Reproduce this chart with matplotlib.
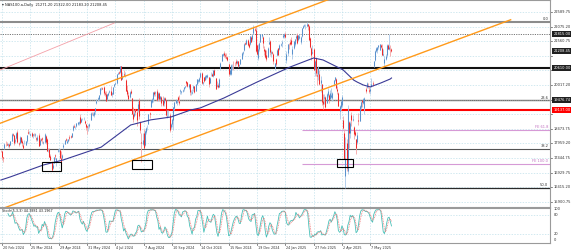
import numpy as np
import pandas as pd
import matplotlib
matplotlib.use("Agg")
import matplotlib.pyplot as plt
from matplotlib.patches import Rectangle
from matplotlib.transforms import blended_transform_factory as btf

plt.rcParams['font.family'] = ['DejaVu Sans']

# ---------------- data ----------------
symbol_title = "NAS100.a,Daily  21271.20 21322.00 21183.20 21208.45"
stoch_title = "Stoch(5,3,3) 44.3881 43.1967"
start_date, end_date = "2024-02-19", "2025-06-02"
closed_days = ["2024-03-29", "2024-12-25", "2025-01-01", "2025-04-18"]

opens = [17700,17690,17480,17800,17950,17940,17920,17930,17920,18050,
18300,18240,18060,18140,18350,17970,17960,18180,18060,17900,
17960,17920,18030,18370,18340,18280,18320,18270,18260,18260,
18150,18080,18250,17920,18120,18140,17990,18010,18220,18130,
17680,17770,17520,17300,17100,17270,17540,17300,17700,17760,
17740,17450,17460,17830,17940,18120,17990,18060,18190,18230,
18200,18420,18590,18550,18560,18640,18700,18900,18720,18810,
18840,18750,18640,18560,18600,18590,18790,19040,18970,18960,
19100,19400,19520,19520,19690,19900,19910,19960,19750,19690,
19520,19650,19770,19820,19700,19710,19970,20050,20100,20420,
20480,20470,20680,20240,20400,20400,20180,19850,19680,19600,
19790,19550,18990,18930,19130,19060,19130,19500,18730,18000,
17950,18330,17890,18370,18540,18660,19030,19250,19430,19540,
19760,19740,19810,19550,19730,19510,19600,19480,19400,19570,
19480,18880,18960,18950,18530,18660,18770,19220,19400,19420,
19580,19470,19800,19780,19800,19890,19960,20150,20110,19960,
20040,19760,19740,19910,19970,19800,20050,20170,20150,20290,
20450,20110,20290,20200,20300,20300,20290,20100,20330,20400,
20330,20530,20250,19990,20020,19960,20620,20860,21080,21150,
21070,21020,21010,20760,20400,20400,20740,20770,20760,20860,
20780,20860,20700,20760,20950,21130,21240,21500,21480,21620,
21480,21450,21720,21640,21840,21980,21970,21410,20980,21290,
21550,21760,21720,21300,21250,21080,21010,21460,21580,21150,
21180,21110,20650,20930,21070,21320,21290,21420,21520,21700,
21730,21830,20900,21150,21440,21520,21620,21100,21310,21450,
21680,21780,21610,21670,21520,21760,22030,22110,22150,22110,
22170,22090,21680,21320,21150,21270,20570,20980,20370,20390,
20420,20100,20040,19440,19550,19590,19380,19660,19680,19530,
19580,19550,20050,20210,20230,19880,19750,19100,19260,19310,
18800,18330,16800,17980,17000,18700,18340,18960,18800,18530,
18350,18100,18010,18800,18760,19240,19480,19370,19200,19880,
19930,20000,19830,19800,19990,20100,20700,20900,21220,21250,
21340,21260,21430,21310,21090,20780,20950,21060,21410,21290,
21370,21271.20]
highs = [17740,17700,17490,17960,18040,18000,17970,17950,18060,18310,
18340,18250,18160,18360,18420,18010,18210,18190,18110,17960,
18080,18060,18250,18460,18380,18330,18360,18290,18310,18310,
18180,18240,18330,18140,18150,18190,18060,18310,18260,18150,
17790,17800,17580,17340,17290,17480,17570,17460,17780,17790,
17760,17690,17600,17960,18090,18160,18100,18120,18240,18260,
18330,18600,18640,18570,18690,18720,18760,19000,18840,18850,
18890,18790,18660,18590,18650,18680,19060,19080,19080,19090,
19220,19510,19590,19680,19920,19940,19950,20000,19790,19800,
19710,19780,19830,19980,19770,19960,20070,20120,20400,20490,
20520,20690,20700,20480,20560,20460,20230,20020,19780,19800,
19870,19560,19240,19120,19180,19120,19440,19560,18760,18310,
18340,18470,18430,18550,18620,19000,19060,19490,19560,19770,
19800,19820,19860,19780,19770,19640,19630,19630,19580,19600,
19500,19130,19140,19040,18670,18830,19250,19430,19510,19460,
19630,19680,19880,19820,19860,19960,20000,20160,20130,20070,
20060,19830,19870,20010,19990,20070,20240,20230,20290,20460,
20470,20140,20290,20360,20380,20400,20300,20290,20490,20440,
20560,20580,20270,20170,20090,20260,20820,21110,21150,21200,
21140,21140,21040,20790,20580,20760,20760,20880,20820,20930,
20890,20870,20760,20940,21170,21200,21490,21540,21650,21640,
21520,21760,21730,21800,22130,22050,22100,21480,21450,21520,
21800,21830,21740,21380,21280,21260,21350,21700,21600,21260,
21220,21130,20800,20960,21300,21320,21470,21510,21620,21810,
21840,21900,21200,21470,21500,21640,21720,21400,21580,21650,
21780,21850,21780,21800,21750,22040,22130,22150,22180,22220,
22180,22120,21720,21360,21440,21310,20890,21020,20630,20690,
20550,20330,20040,19690,19690,19630,19720,19910,19700,19840,
19900,19770,20200,20300,20260,19970,19770,19320,19460,19650,
18940,18460,18200,18100,19300,18750,18760,19050,18960,18560,
18450,18120,18360,19040,19310,19450,19500,19570,19610,19950,
20130,20080,19930,19960,20250,20160,20880,21250,21360,21360,
21440,21470,21460,21480,21270,21030,21120,21450,21480,21830,
21420,21322.00]
lows = [17640,17370,17320,17780,17880,17900,17850,17810,17890,18030,
18220,17900,17980,18110,17990,17870,17940,17960,17880,17780,
17950,17890,17980,18300,18290,18230,18200,18160,18230,18170,
18050,18060,17860,17890,18060,17960,17930,17980,17940,17700,
17640,17480,17360,16980,17070,17260,17420,17160,17660,17660,
17440,17300,17420,17770,17930,18040,17980,18000,18090,18150,
18180,18410,18540,18470,18550,18620,18610,18660,18700,18790,
18770,18640,18430,18290,18400,18520,18780,18950,18940,18900,
19000,19360,19460,19490,19660,19840,19860,19660,19620,19440,
19480,19640,19730,19660,19610,19700,19960,20040,20070,20400,
20400,20430,20180,20220,20330,20300,19800,19620,19510,19570,
19700,18980,18720,18900,18950,18570,19080,18810,18310,17300,
17920,17790,17870,18300,18420,18650,18860,19230,19400,19430,
19620,19640,19460,19470,19470,19460,19280,19270,19280,19480,
18940,18860,18880,18370,18480,18550,18430,19130,19390,19310,
19420,19330,19710,19690,19760,19800,19900,19980,19940,19860,
19680,19680,19700,19820,19730,19790,20010,20090,20140,20270,
20050,20010,20140,20200,20230,20270,19950,20080,20320,20340,
20300,20380,19880,19960,19910,19960,20570,20850,21040,21010,
20980,20950,20870,20340,20380,20370,20540,20560,20680,20740,
20760,20660,20680,20750,20940,21080,21220,21440,21470,21400,
21320,21440,21540,21570,21820,21910,21170,21090,20910,21210,
21530,21680,21330,21080,20980,20880,21000,21450,21080,20990,
21100,20760,20540,20690,21040,21060,21240,21400,21370,21680,
21660,21690,20800,21040,21280,21410,21420,20950,21290,21400,
21620,21480,21590,21630,21480,21720,22020,22080,22000,22080,
21950,21600,21320,20900,21100,20540,20340,20340,20030,20210,
20030,19760,19310,19180,19360,19200,19370,19610,19400,19510,
19550,19450,20000,20170,19880,19700,19270,18810,19150,19240,
18480,17400,16400,17000,16900,17800,18140,18580,18760,18100,
18220,17600,17950,18620,18740,19170,19230,19360,18990,19720,
19900,19900,19740,19710,19960,19980,20640,20880,21170,21150,
21280,21240,21310,21060,21030,20680,20900,21020,21270,21250,
21050,21183.20]
closes = [17690,17480,17440,17940,17940,17920,17940,17870,18040,18300,
18250,17990,18080,18340,18020,17930,18200,18000,17970,17810,
17990,18050,18240,18340,18340,18280,18210,18280,18250,18290,
18130,18170,17880,18080,18080,18130,18000,18290,18000,17710,
17710,17490,17390,17040,17210,17470,17530,17430,17720,17780,
17440,17320,17540,17890,18080,18070,18060,18110,18160,18200,
18320,18590,18550,18550,18670,18710,18710,18690,18810,18830,
18870,18670,18540,18540,18610,18640,19040,19020,18990,19080,
19210,19470,19570,19660,19900,19910,19880,19750,19700,19470,
19700,19750,19790,19680,19750,19950,20050,20100,20390,20450,
20440,20680,20210,20330,20370,20410,19800,19700,19520,19770,
19740,18990,18830,19020,19060,18800,19360,18910,18440,17990,
18080,17810,18410,18510,18540,18990,19010,19480,19510,19760,
19710,19780,19480,19720,19530,19620,19390,19320,19570,19500,
18960,18920,18960,18420,18640,18830,19240,19420,19480,19460,
19480,19380,19840,19790,19850,19940,19970,20090,19980,20060,
19760,19780,19760,20000,19760,20060,20230,20190,20270,20440,
20100,20110,20160,20320,20360,20360,20050,20270,20350,20350,
20550,20380,19890,20030,19960,20230,20800,21100,21120,21070,
21040,20980,20900,20390,20560,20730,20740,20760,20750,20780,
20870,20700,20740,20930,21160,21180,21480,21460,21620,21430,
21350,21740,21550,21780,22050,21950,21200,21110,21290,21490,
21800,21800,21510,21210,21010,20950,21320,21530,21180,21180,
21150,20850,20780,20760,21240,21070,21420,21480,21520,21790,
21830,21720,21120,21460,21410,21480,21480,21300,21560,21640,
21760,21490,21770,21740,21720,22030,22110,22140,22170,22180,
22080,21610,21350,21090,21180,20550,20880,20440,20350,20630,
20050,20200,19430,19360,19590,19230,19700,19800,19480,19740,
19680,19750,20180,20290,19920,19800,19280,19280,19440,19580,
18520,17400,17430,17090,19150,18320,18690,18770,18830,18280,
18260,17810,18270,18750,19290,19430,19420,19540,19570,19790,
20100,19990,19790,19870,20060,20060,20870,21200,21320,21340,
21430,21450,21370,21080,21110,20920,21050,21410,21290,21360,
21340,21208.45]

# moving average (date, value)
ma_dates = ["2024-02-19","2024-02-29","2024-04-10","2024-05-03","2024-06-18","2024-07-23",
            "2024-08-15","2024-09-09","2024-10-02","2024-10-14","2024-11-11","2024-12-19",
            "2025-01-30","2025-02-27","2025-03-11","2025-04-03","2025-04-16","2025-04-22",
            "2025-04-29","2025-05-07","2025-05-20","2025-05-30","2025-06-02"]
ma_values = [16670,16780,17200,17380,17830,18610,18790,18890,19140,19210,19560,20120,
             20650,20970,20900,20550,20190,20120,20020,19950,20090,20230,20265]

price_ticks = [15900.75,16415.20,16929.75,17444.75,17959.20,18473.75,18988.20,
               19502.75,20017.20,20531.75,21046.20,21560.75,22075.20,22589.75]

# horizontal objects
fib_high, fib_low = 22237, 10541
fib_levels = [0.0, 23.6, 38.2, 50.0]
fe_levels = ["FE 61.8", "FE 100.0"]
fe_prices = [18433, 17235]
fe_start = "2025-02-13"
support_black = 20610
support_red = 19137
dotted_level = 21815

# trend lines (date, price) anchors
upper_chan = [("2024-02-19", 18680), ("2025-02-12", 22660)]
lower_chan = [("2024-10-01", 18115), ("2025-05-20", 20617)]
lower_chan_end = 432  # bars after start where the drawn line stops
pink_line = [("2024-03-18", 20900), ("2024-07-03", 22200)]

boxes = [("2024-04-09", "2024-05-01", 16995, 17315),
         ("2024-07-24", "2024-08-16", 17060, 17375),
         ("2025-03-27", "2025-04-15", 17120, 17420)]

stoch_levels = [100, 80, 20, 0]

# ---------------- layout ----------------
W, H = 571, 250
fig = plt.figure(figsize=(W / 100, H / 100), dpi=100)
fig.patch.set_facecolor("white")

def frect(x0, y0, x1, y1):
    return [x0 / W, 1 - y1 / H, (x1 - x0) / W, (y1 - y0) / H]

ax = fig.add_axes(frect(0, 0, 550, 207))
ax2 = fig.add_axes(frect(0, 208, 550, 243))

dates = pd.bdate_range(start_date, end_date)
dates = dates[~dates.isin(pd.to_datetime(closed_days))]
n = len(closes)
dates = dates[:n]
idx = np.arange(n)
pos = {d: i for i, d in enumerate(dates)}

def di(s):
    return pos[pd.Timestamp(s)]

o = np.array(opens, float); h = np.array(highs, float)
l = np.array(lows, float); c = np.array(closes, float)

PX = 1.18
xlim = (-0.9 / PX, (550 - 0.9) / PX)
ppx = 35.23
ylim = (22589.75 - 195 * ppx, 22589.75 + 12 * ppx)

FS = 2.6

for a in (ax, ax2):
    a.set_xlim(*xlim)
    a.set_xticks([])
    a.set_yticks([])
    for s in a.spines.values():
        s.set_color("#9a9a9a")
        s.set_linewidth(0.8)
    a.spines["left"].set_visible(False)
ax.set_ylim(*ylim)
ax2.set_ylim(-10, 103.3)

grid_kw = dict(color="#bfe0ea", lw=0.5, ls=(0, (2, 2)), zorder=0)
label_idx = list(range(1, n, 24))
for a in (ax, ax2):
    for i in label_idx:
        a.axvline(i, **grid_kw)
for p in price_ticks:
    ax.axhline(p, **grid_kw)
for lv in (80, 20):
    ax2.axhline(lv, **grid_kw)

# ---------------- candles ----------------
up = c >= o
bull_body, bull_wick = "#5a92cd", "#a9c8e8"
bear_body, bear_wick = "#ee2b2b", "#f4a4a4"
ax.vlines(idx[up], l[up], h[up], color=bull_wick, lw=0.6, zorder=3)
ax.vlines(idx[~up], l[~up], h[~up], color=bear_wick, lw=0.6, zorder=3)
bt = np.maximum(o, c); bb = np.minimum(o, c)
bb = np.where(bt - bb < 15, bt - 15, bb)
ax.vlines(idx[up], bb[up], bt[up], color=bull_body, lw=0.75, zorder=4)
ax.vlines(idx[~up], bb[~up], bt[~up], color=bear_body, lw=0.75, zorder=4)

# ---------------- moving average ----------------
ax.plot([di(d) for d in ma_dates], ma_values, color="#3a3a96", lw=0.8, zorder=5)

# ---------------- horizontal levels ----------------
tr = btf(ax.transAxes, ax.transData)
fib_prices = [fib_high - f / 100 * (fib_high - fib_low) for f in fib_levels]
fib_cols = ["#8c8c8c", "#6e6e6e", "#555555", "#2a2a2a"]
fib_lw = [1.5, 1.0, 0.8, 0.9]
for f, p, col, lw in zip(fib_levels, fib_prices, fib_cols, fib_lw):
    ax.axhline(p, color=col, lw=lw, zorder=2)
    ax.text(0.997, p + 25, f"{f:.1f}", transform=tr, ha="right", va="bottom",
            fontsize=FS, color="#333333", zorder=6)
ax.axhline(fib_prices[1], color="#9a9a9a", lw=0.7, ls=(0, (1, 1)), zorder=2)
ax.axhline(dotted_level, color="#777777", lw=0.7, ls=(0, (1.2, 1.2)), zorder=2)
ax.axhline(support_black, color="#111111", lw=1.5, zorder=2)
ax.axhline(support_red, color="#ff0000", lw=1.5, zorder=2)
for lab, p in zip(fe_levels, fe_prices):
    ax.hlines(p, di(fe_start), xlim[1], color="#d69ad6", lw=0.8, zorder=2)
    ax.text(0.997, p + 25, lab, transform=tr, ha="right", va="bottom",
            fontsize=FS, color="#c070c0", zorder=6)

# ---------------- trend lines ----------------
def anchor_line(pts, x0, x1):
    (d0, p0), (d1, p1) = pts
    i0, i1 = di(d0), di(d1)
    sl = (p1 - p0) / (i1 - i0)
    xs = np.array([x0, x1], float)
    return xs, p0 + sl * (xs - i0)

xs, ys = anchor_line(upper_chan, xlim[0], xlim[1])
ax.plot(xs, ys, color="#ff9a1a", lw=1.0, zorder=6)
xs, ys = anchor_line(lower_chan, xlim[0], lower_chan_end)
ax.plot(xs, ys, color="#ff9a1a", lw=1.0, zorder=6)
xs, ys = anchor_line(pink_line, xlim[0], di(pink_line[1][0]))
ax.plot(xs, ys, color="#f4a0a8", lw=0.6, zorder=6)

for d0, d1, p0, p1 in boxes:
    i0, i1 = di(d0), di(d1)
    ax.add_patch(Rectangle((i0, p0), i1 - i0, p1 - p0, fill=False,
                           ec="black", lw=0.8, zorder=7))

# ---------------- right axis labels ----------------
box_prices = [dotted_level, c[-1], support_black, fib_prices[1], support_red]
box_cols = ["#202020", "#202020", "#202020", "#202020", "#ff0000"]
for p in price_ticks:
    ax.plot([1.0, 1.004], [p, p], transform=tr, color="#555555", lw=0.5, clip_on=False)
    if min(abs(p - b) for b in box_prices) < 5.5 * ppx:
        continue
    ax.text(1.006, p, f"{p:.2f}", transform=tr, ha="left", va="center",
            fontsize=FS, color="#333333", clip_on=False)

for p, fc in zip(box_prices, box_cols):
    ax.text(1.006, p, f"{p:.2f}", transform=tr, ha="left", va="center",
            fontsize=FS, color="white", clip_on=False, zorder=9,
            bbox=dict(boxstyle="square,pad=0.3", fc=fc, ec=fc, lw=0))

# header
ax.text(0.004, 0.985, "\u25be " + symbol_title, transform=ax.transAxes, ha="left",
        va="top", fontsize=FS, color="#222222")

# ---------------- stochastic ----------------
hh = pd.Series(h).rolling(5).max()
ll = pd.Series(l).rolling(5).min()
num = (pd.Series(c) - ll).rolling(3).sum()
den = (hh - ll).rolling(3).sum()
k = 100 * num / den
dline = k.rolling(3).mean()
ax2.plot(idx, k, color="#48c0b8", lw=0.6, zorder=3)
ax2.plot(idx, dline, color="#f07070", lw=0.6, ls=(0, (1, 1)), zorder=3)
ax2.text(0.004, 0.96, stoch_title, transform=ax2.transAxes, ha="left", va="top",
         fontsize=2.4, color="#222222")
tr2 = btf(ax2.transAxes, ax2.transData)
for lv in stoch_levels:
    ax2.text(1.006, lv, str(lv), transform=tr2, ha="left", va="center",
             fontsize=FS, color="#333333", clip_on=False)

# ---------------- x labels ----------------
trx = btf(ax2.transData, ax2.transAxes)
for i in label_idx:
    lab = f"{dates[i].day} {dates[i].strftime('%b %Y')}"
    ax2.text(i + 0.8, -0.08, lab, transform=trx, ha="left", va="top",
             fontsize=2.4, color="#333333", clip_on=False)
    ax2.plot([i, i], [0, -0.06], transform=trx, color="#555555", lw=0.5, clip_on=False)

fig.savefig("out.png", dpi=100)
